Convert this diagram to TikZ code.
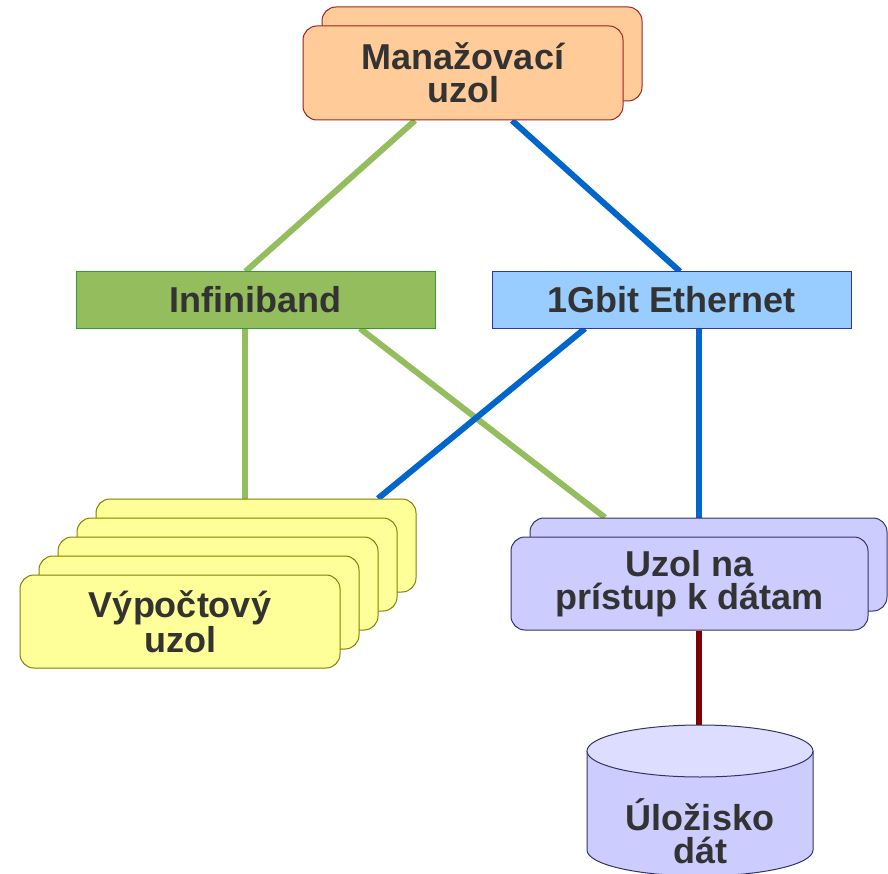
\documentclass[tikz,border=0pt]{standalone}
\usepackage{fontspec}
\setmainfont{Liberation Sans}
\usetikzlibrary{backgrounds}
\definecolor{peach}{HTML}{FFCC99}
\definecolor{peachline}{HTML}{992222}
\definecolor{ibgreen}{HTML}{94BD5E}
\definecolor{ibline}{HTML}{339933}
\definecolor{ethblue}{HTML}{99CCFF}
\definecolor{ethline}{HTML}{3333AA}
\definecolor{linkblue}{HTML}{0066CC}
\definecolor{compyellow}{HTML}{FFFF99}
\definecolor{compline}{HTML}{808000}
\definecolor{lavender}{HTML}{CCCCFF}
\definecolor{lavtop}{HTML}{DDDDFF}
\definecolor{lavline}{HTML}{333366}
\definecolor{dataline}{HTML}{800000}
\definecolor{txt}{HTML}{333333}
\begin{document}
\begin{tikzpicture}[x=1pt,y=-1pt]
\tikzstyle{every node}+=[inner sep=0pt,font=\fontsize{36}{33}\selectfont\bfseries,text=txt,align=center]
\tikzstyle{mgmtbox}=[draw=peachline,fill=peach,line width=1pt,rounded corners=14pt,minimum width=320pt,minimum height=94pt]
\tikzstyle{netbox}=[line width=1pt,minimum width=359pt,minimum height=56pt]
\tikzstyle{compbox}=[draw=compline,fill=compyellow,line width=1pt,rounded corners=14pt,minimum width=320pt,minimum height=93pt]
\tikzstyle{databox}=[draw=lavline,fill=lavender,line width=1pt,rounded corners=14pt,minimum width=357pt,minimum height=93pt]
\tikzstyle{greenlink}=[ibgreen,line width=6pt]
\tikzstyle{bluelink}=[linkblue,line width=6pt]
\useasboundingbox (0,0) rectangle (888,874);
% management node
\node[mgmtbox] (mgmtback) at (482,54) {};
\node[mgmtbox] (mgmt) at (463,73) {Manažovací\\uzol};
% networks
\node[netbox,draw=ibline,fill=ibgreen] (ib) at (255.5,300) {Infiniband};
\node[netbox,draw=ethline,fill=ethblue] (eth) at (671.5,300) {1Gbit Ethernet};
% compute nodes
\foreach \i in {4,...,1}
  \node[compbox] (comp\i) at (180+19*\i,621.5-19*\i) {};
\node[compbox] (comp) at (180,621.5) {Výpočtový\\uzol};
% data access node
\node[databox] (databack) at (708.5,564.5) {};
\node[databox] (data) at (689.5,583.5) {Uzol na\\prístup k dátam};
% storage
\draw[draw=lavline,fill=lavender,line width=1pt] (587,751) -- (587,850) arc[start angle=180,end angle=0,x radius=113,y radius=26] -- (813,751);
\draw[draw=lavline,fill=lavtop,line width=1pt] (700,751) ellipse[x radius=113,y radius=26];
\coordinate (storetop) at (699,725);
\node (store) at (700,831) {Úložisko\\dát};
% links
\begin{scope}[on background layer]
\draw[greenlink] ([xshift=-48pt]mgmt.south) -- ([xshift=-10pt]ib.north);
\draw[bluelink] ([xshift=49pt]mgmt.south) -- ([xshift=8.5pt]eth.north);
\draw[greenlink] ([xshift=-10.5pt]ib.south) -- ([xshift=-11pt]comp4.north);
\draw[greenlink] ([xshift=104.5pt]ib.south) -- ([xshift=-103.5pt]databack.north);
\draw[bluelink] ([xshift=-86.5pt]eth.south) -- ([xshift=122pt]comp4.north);
\draw[bluelink] ([xshift=27.5pt]eth.south) -- ([xshift=-9.5pt]databack.north);
\draw[dataline,line width=6pt] ([xshift=9.5pt]data.south) -- (storetop);
\end{scope}
\end{tikzpicture}
\end{document}
